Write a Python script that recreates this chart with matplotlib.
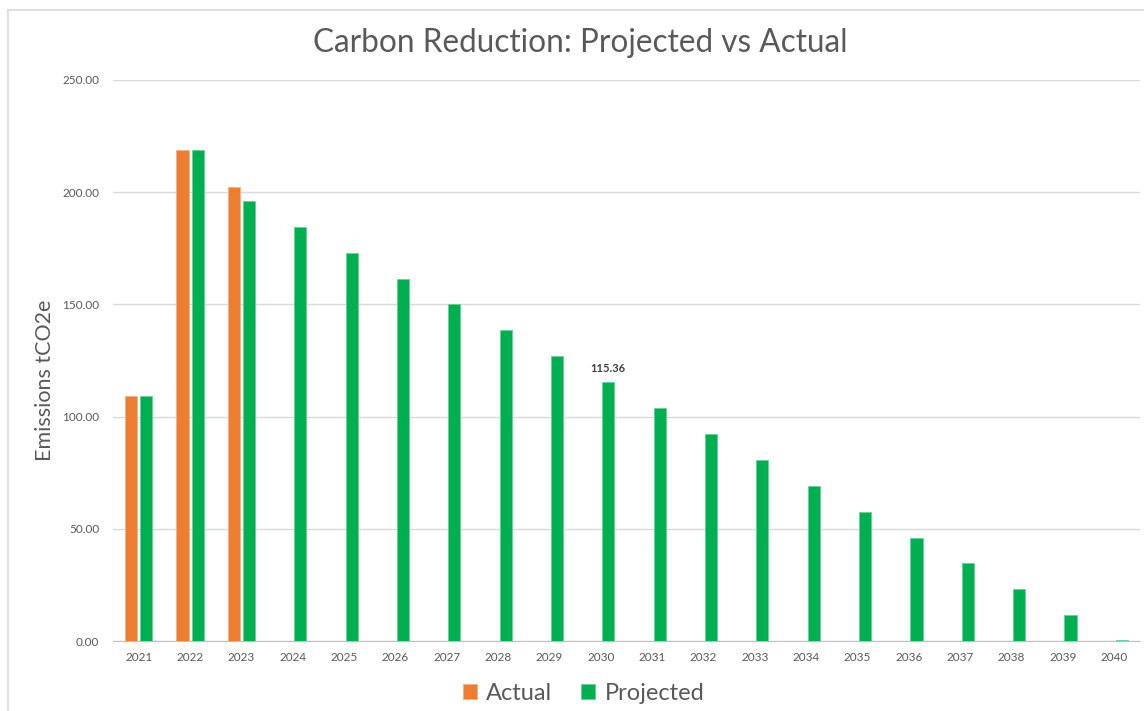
import matplotlib.pyplot as plt
import matplotlib.patches as patches
import numpy as np

plt.rcParams["font.family"] = ["Lato", "DejaVu Sans"]

# Data
years = [str(y) for y in range(2021, 2041)]
actual = [109.2, 218.8, 202.2]
projected = [109.2, 218.8, 195.9, 184.6, 173.0, 161.5, 150.0, 138.4, 126.9, 115.36,
             103.8, 92.3, 80.8, 69.2, 57.7, 46.1, 34.6, 23.1, 11.5, 0.3]
labelled_year = "2030"

ORANGE = "#ED7D31"
GREEN = "#00B050"
GRAY_TEXT = "#595959"

fig = plt.figure(figsize=(11.44, 7.11), dpi=100)
ax = fig.add_axes([113 / 1144, 1 - 641 / 711, (1140 - 113) / 1144, (641 - 80) / 711])

# chart border (Excel chart area)
fig.patches.append(patches.Rectangle((8 / 1144, -0.05), 1.2, 1 - 10 / 711 + 0.05,
                                     transform=fig.transFigure, fill=False,
                                     edgecolor="#d9d9d9", linewidth=1.2))

x = np.arange(len(years))
width = 0.235
offset = 0.147
ax.bar(x[:len(actual)] - offset, actual, width, color=ORANGE, edgecolor="#f4b183",
       linewidth=0.6, label="Actual", zorder=3)
ax.bar(x + offset, projected, width, color=GREEN, edgecolor="#66d096",
       linewidth=0.6, label="Projected", zorder=3)

i = years.index(labelled_year)
ax.annotate(f"{projected[i]:.2f}", (x[i] + offset, projected[i]), xytext=(0, 6),
            textcoords="offset points", ha="center", va="bottom",
            fontsize=8, fontweight="bold", color="#404040")

ax.set_xlim(-0.5, len(years) - 0.5)
ax.set_ylim(0, 250)
ax.set_yticks(np.arange(0, 251, 50))
ax.set_yticklabels([f"{v:.2f}" for v in np.arange(0, 251, 50)])
ax.set_xticks(x)
ax.set_xticklabels(years)
ax.tick_params(axis="both", length=0, labelsize=8.5, labelcolor=GRAY_TEXT)
ax.tick_params(axis="y", pad=10)
ax.tick_params(axis="x", pad=8)
ax.grid(axis="y", color="#d9d9d9", linewidth=1, zorder=0)
for s in ["top", "right", "left"]:
    ax.spines[s].set_visible(False)
ax.spines["bottom"].set_color("#bfbfbf")
ax.set_axisbelow(True)

fig.text(45 / 1144, 1 - 380 / 711, "Emissions tCO2e", rotation=90, ha="center",
         va="center", fontsize=15.5, color=GRAY_TEXT)
fig.text(0.507, 1 - 43 / 711, "Carbon Reduction: Projected vs Actual", ha="center",
         va="center", fontsize=22.7, color=GRAY_TEXT)

fig.legend(loc="center", bbox_to_anchor=(0.51, 1 - 693 / 711), ncol=2, frameon=False,
           fontsize=17, labelcolor=GRAY_TEXT, handlelength=0.6, handleheight=0.6,
           handletextpad=0.4, columnspacing=1.2)

fig.savefig("out.png", dpi=100, facecolor="white")
